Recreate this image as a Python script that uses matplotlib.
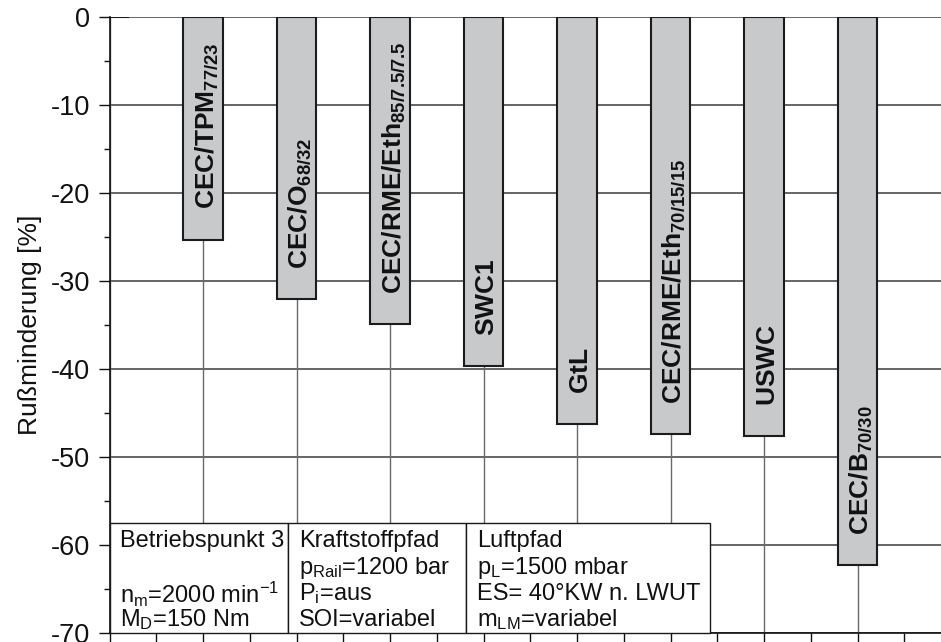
import matplotlib
matplotlib.use("Agg")
import matplotlib.pyplot as plt
from matplotlib.patches import Rectangle
from matplotlib.ticker import MultipleLocator, FixedLocator

plt.rcParams['font.family'] = ['Liberation Sans', 'DejaVu Sans']
plt.rcParams['mathtext.fontset'] = 'custom'
plt.rcParams['mathtext.rm'] = 'Liberation Sans'
plt.rcParams['mathtext.it'] = 'Liberation Sans:italic'
plt.rcParams['mathtext.bf'] = 'Liberation Sans:bold'
plt.rcParams['axes.unicode_minus'] = False

# ---- data ----
names = ['', 'CEC/TPM', 'CEC/O', 'CEC/RME/Eth', 'SWC1', 'GtL',
         'CEC/RME/Eth', 'USWC', 'CEC/B']
subs = ['', '77/23', '68/32', '85/7.5/7.5', '', '', '70/15/15', '', '70/30']
values = [0, -25.3, -32.1, -34.9, -39.7, -46.3, -47.4, -47.6, -62.3]
yticks = [0, -10, -20, -30, -40, -50, -60, -70]
ylabel = 'Rußminderung [%]'
table_cells = [
    ['Betriebspunkt 3', '', r'n$_\mathrm{m}$=2000 min$^\mathrm{-1}$', r'M$_\mathrm{D}$=150 Nm'],
    ['Kraftstoffpfad', r'p$_\mathrm{Rail}$=1200 bar', r'P$_\mathrm{i}$=aus', 'SOI=variabel'],
    ['Luftpfad', r'p$_\mathrm{L}$=1500 mbar', 'ES= 40°KW n. LWUT', r'm$_\mathrm{LM}$=variabel'],
]

W, H = 941, 642
fig = plt.figure(figsize=(W / 100, H / 100), dpi=100)
x0, x1 = 109.5, 941
y0, y1 = 17, 633
ax = fig.add_axes([x0 / W, (H - y1) / H, (x1 - x0) / W, (y1 - y0) / H])

pxu = 93.5  # px per category
xs = list(range(len(values)))
ax.set_xlim(0, (x1 - x0) / pxu)
ax.set_ylim(-70, 0)

# grid
ax.set_axisbelow(True)
for yv in yticks:
    ax.axhline(yv, color='#3c3c3c', lw=1.1, zorder=0.5)
for xv in xs:
    ax.axvline(xv, color='#6a6a6a', lw=1.0, zorder=0.5)

ax.bar(xs, values, width=0.42, color='#c8c9cb', edgecolor='#1c1c1c',
       linewidth=1.5, zorder=2)

for x, n, s, v in zip(xs, names, subs, values):
    if not n:
        continue
    if s:
        lab = r'$\mathbf{%s}_{\mathbf{%s}}$' % (n, s)
    else:
        lab = r'$\mathbf{%s}$' % n
    ax.text(x + 0.04, v + 3.45, lab, rotation=90, ha='center', va='bottom',
            fontsize=19, color='#111111', zorder=3)

# axes styling
for side in ['top', 'right']:
    ax.spines[side].set_visible(False)
ax.spines['left'].set_color('#111111')
ax.spines['bottom'].set_color('#111111')
ax.spines['left'].set_linewidth(1.2)
ax.spines['bottom'].set_linewidth(1.2)

ax.yaxis.set_major_locator(FixedLocator(yticks))
ax.yaxis.set_minor_locator(MultipleLocator(5))
ax.set_yticklabels([str(t) for t in yticks])
ax.tick_params(axis='y', which='major', direction='out', length=8, width=1,
               labelsize=19.5, pad=6, colors='#111111')
ax.tick_params(axis='y', which='minor', direction='out', length=4, width=1,
               colors='#111111')
ax.xaxis.set_major_locator(FixedLocator(xs))
ax.xaxis.set_minor_locator(MultipleLocator(0.5))
ax.tick_params(axis='x', which='both', direction='out', length=9, width=1,
               labelbottom=False, colors='#111111')

ax.set_ylabel(ylabel, fontsize=19, color='#111111')
ax.yaxis.set_label_coords((42 - x0) / (x1 - x0), 0.5)

# info table (annotation box)
def px2x(p):
    return (p - x0) / pxu

def py2y(p):
    return -(p - y0) / (y1 - y0) * 70

tbl_top = py2y(523)
edges = [px2x(109.5), px2x(288), px2x(466), px2x(710)]
for i in range(3):
    ax.add_patch(Rectangle((edges[i], -70), edges[i + 1] - edges[i], tbl_top + 70,
                           facecolor='white', edgecolor='#1a1a1a', lw=1.0,
                           zorder=4, clip_on=False))
line_px = [541, 568, 594, 620]
for i, cell in enumerate(table_cells):
    for j, t in enumerate(cell):
        if t:
            ax.text(edges[i] + 11 / pxu, py2y(line_px[j]), t, ha='left',
                    va='center', fontsize=17, color='#111111', zorder=5)

fig.savefig('out.png', dpi=100)
